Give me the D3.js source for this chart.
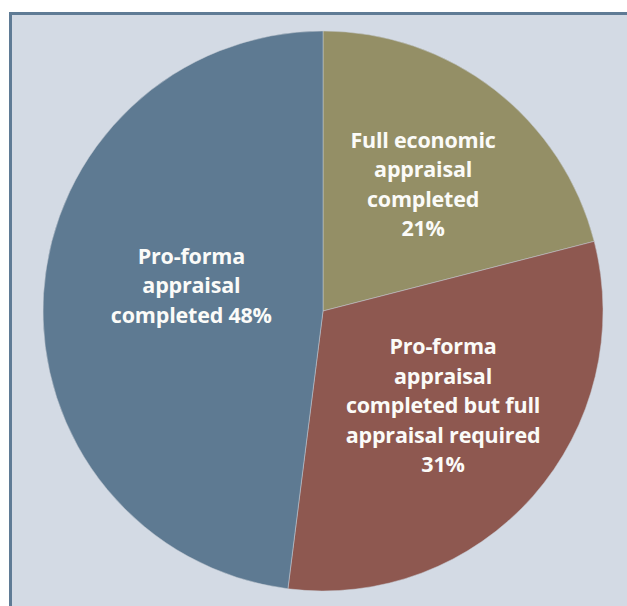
<!DOCTYPE html>
<html>
<head>
<meta charset="utf-8">
<script src="https://cdn.jsdelivr.net/npm/d3@7"></script>
<style>
  html, body { margin: 0; padding: 0; background: #ffffff; }
  svg { display: block; }
  .slice-label { font-family: "Open Sans", Lato, sans-serif; font-weight: 700; fill: #fbfbf8; }
</style>
</head>
<body>
<div id="chart"></div>
<script>
// Data (clockwise from 12 o'clock)
const categories = [
    "Full economic appraisal completed",
    "Pro-forma appraisal completed but full appraisal required",
    "Pro-forma appraisal completed"
];
const shares = [21, 31, 48];
const labelLines = [
    ["Full economic", "appraisal", "completed", "21%"],
    ["Pro-forma", "appraisal", "completed but full", "appraisal required", "31%"],
    ["Pro-forma", "appraisal", "completed 48%"]
];

const width = 627, height = 606;
const cx = 323, cy = 311, radius = 280;
const colors = ["#948f66", "#8e5850", "#5e7a92"];
// small nudges so the labels sit where the original puts them
const labelNudge = [[2, 0], [0, -11], [28, -15]];

const svg = d3.select("#chart").append("svg")
    .attr("width", width)
    .attr("height", height);

// Panel background with the left/top frame
svg.append("rect")
    .attr("x", 10.5).attr("y", 13.5)
    .attr("width", width + 20).attr("height", height + 20)
    .attr("fill", "#d3dae4")
    .attr("stroke", "#5f7b95")
    .attr("stroke-width", 3);

const pie = d3.pie().sort(null).value(d => d)(shares);
const arc = d3.arc().innerRadius(0).outerRadius(radius);
const labelArc = d3.arc().innerRadius(160).outerRadius(160);

const g = svg.append("g").attr("transform", `translate(${cx},${cy})`);

g.selectAll("path.slice")
    .data(pie)
    .join("path")
    .attr("class", "slice")
    .attr("d", arc)
    .attr("fill", (d, i) => colors[i])
    .attr("stroke", "#c7cdd4")
    .attr("stroke-width", 0.5);

const fontSize = 21.5, lineH = 29.5;

const labels = g.selectAll("text.slice-label")
    .data(pie)
    .join("text")
    .attr("class", "slice-label")
    .attr("text-anchor", "middle")
    .attr("font-size", fontSize)
    .attr("letter-spacing", -0.2)
    .attr("transform", (d, i) => {
        const [x, y] = labelArc.centroid(d);
        return `translate(${x + labelNudge[i][0]},${y + labelNudge[i][1]})`;
    });

labels.each(function (d, i) {
    const lines = labelLines[i];
    const top = -((lines.length - 1) * lineH) / 2 + fontSize * 0.35;
    d3.select(this).selectAll("tspan")
        .data(lines)
        .join("tspan")
        .attr("x", 0)
        .attr("y", (t, j) => top + j * lineH)
        .text(t => t);
});
</script>
</body>
</html>
